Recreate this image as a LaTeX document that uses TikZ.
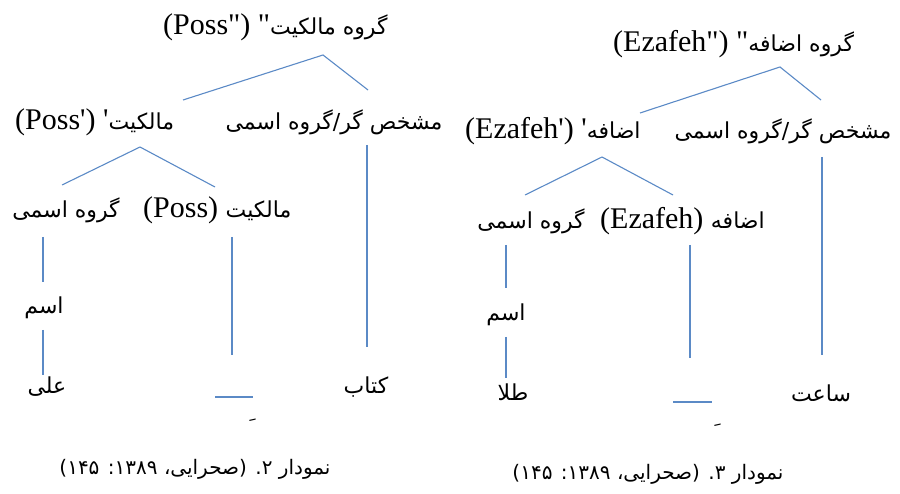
\documentclass[tikz,border=0pt]{standalone}
\usepackage{fontspec}
\setmainfont{Liberation Serif}[Ligatures=TeXOff]
\newfontfamily\fa[Script=Arabic]{DejaVu Sans}
\TeXXeTstate=1
\definecolor{lineblue}{HTML}{5B8AC6}
\newcommand{\fatext}[1]{{\fa\fontsize{22}{28}\selectfont\beginR #1\endR}}
\newcommand{\captext}[1]{{\fa\fontsize{20}{24}\selectfont\beginR #1\endR}}
\tikzset{
  lbl/.style={inner sep=0pt, anchor=base, font=\fontsize{30}{36}\selectfont},
  conn/.style={draw=lineblue, line width=1.1pt},
}
\begin{document}
\begin{tikzpicture}[x=1pt,y=-1pt]
\useasboundingbox (0,0) rectangle (900,494);
% ---------- left tree (figure 2)
\node[lbl, anchor=base west] (p2top) at (163,35) {(Poss")\ "\fatext{گروه مالکیت}};
\node[lbl, anchor=base west] (p2mid) at (15,130) {(Poss')\ '\fatext{مالکیت}};
\node[lbl] (p2spec) at (334,130) {\fatext{مشخص گر/گروه اسمی}};
\node[lbl] (p2np) at (66,218) {\fatext{گروه اسمی}};
\node[lbl, anchor=base west] (p2poss) at (143,218) {(Poss)\ \fatext{مالکیت}};
\node[lbl] (p2n) at (44,314) {\fatext{اسم}};
\node[lbl] (p2ali) at (47,393) {\fatext{علی}};
\node[lbl] (p2ketab) at (366,393) {\fatext{کتاب}};
\node[lbl] (p2kasra) at (247,418) {\fatext{ِ}};
\node[lbl] (cap2) at (195,474) {\captext{نمودار \beginL۲\endL. (صحرایی، \beginL۱۳۸۹\endL: \beginL۱۴۵\endL)}};

\coordinate (a1) at (323,55);  \coordinate (a1l) at (183,100); \coordinate (a1r) at (368,90);
\coordinate (a2) at (140,147); \coordinate (a2l) at (62,185);  \coordinate (a2r) at (215,187);
\coordinate (v1t) at (367,145); \coordinate (v1b) at (367,347);
\coordinate (v2t) at (43,237);  \coordinate (v2b) at (43,282);
\coordinate (v3t) at (43,330);  \coordinate (v3b) at (43,375);
\coordinate (v4t) at (232,237); \coordinate (v4b) at (232,355);
\coordinate (u1l) at (215,397); \coordinate (u1r) at (253,397);
\draw[conn] (a1l) -- (a1) -- (a1r);
\draw[conn] (a2l) -- (a2) -- (a2r);
\draw[conn] (v1t) -- (v1b);
\draw[conn] (v2t) -- (v2b);
\draw[conn] (v3t) -- (v3b);
\draw[conn] (v4t) -- (v4b);
\draw[conn] (u1l) -- (u1r);

% ---------- right tree (figure 3)
\node[lbl, anchor=base west] (e3top) at (613,52) {(Ezafeh")\ "\fatext{گروه اضافه}};
\node[lbl, anchor=base west] (e3mid) at (465,139) {(Ezafeh')\ '\fatext{اضافه}};
\node[lbl] (e3spec) at (783,139) {\fatext{مشخص گر/گروه اسمی}};
\node[lbl] (e3np) at (531,229) {\fatext{گروه اسمی}};
\node[lbl, anchor=base west] (e3ez) at (600,229) {(Ezafeh)\ \fatext{اضافه}};
\node[lbl] (e3n) at (506,321) {\fatext{اسم}};
\node[lbl] (e3tala) at (513,400) {\fatext{طلا}};
\node[lbl] (e3saat) at (821,402) {\fatext{ساعت}};
\node[lbl] (e3kasra) at (712,423) {\fatext{ِ}};
\node[lbl] (cap3) at (648,479) {\captext{نمودار \beginL۳\endL. (صحرایی، \beginL۱۳۸۹\endL: \beginL۱۴۵\endL)}};

\coordinate (b1) at (780,67);  \coordinate (b1l) at (640,113); \coordinate (b1r) at (821,100);
\coordinate (b2) at (602,157); \coordinate (b2l) at (525,195); \coordinate (b2r) at (673,195);
\coordinate (w1t) at (822,157); \coordinate (w1b) at (822,355);
\coordinate (w2t) at (506,245); \coordinate (w2b) at (506,288);
\coordinate (w3t) at (506,337); \coordinate (w3b) at (506,378);
\coordinate (w4t) at (690,245); \coordinate (w4b) at (690,358);
\coordinate (u2l) at (673,402); \coordinate (u2r) at (712,402);
\draw[conn] (b1l) -- (b1) -- (b1r);
\draw[conn] (b2l) -- (b2) -- (b2r);
\draw[conn] (w1t) -- (w1b);
\draw[conn] (w2t) -- (w2b);
\draw[conn] (w3t) -- (w3b);
\draw[conn] (w4t) -- (w4b);
\draw[conn] (u2l) -- (u2r);
\end{tikzpicture}
\end{document}
